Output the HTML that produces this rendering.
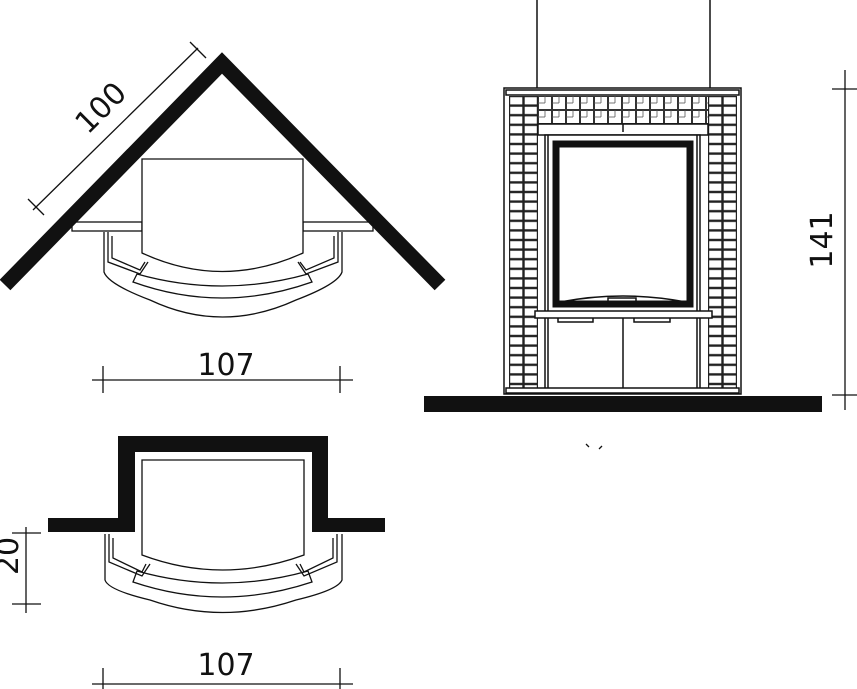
<!DOCTYPE html>
<html><head><style>html,body{margin:0;padding:0;background:#fff}svg{display:block}text{font-family:"DejaVu Sans","Liberation Sans",sans-serif;fill:#111}</style></head>
<body>
<svg width="857" height="689" viewBox="0 0 857 689" xmlns="http://www.w3.org/2000/svg">
<defs>
<pattern id="tile" x="509" y="96" width="14.5" height="9.6" patternUnits="userSpaceOnUse">
<rect x="0.6" y="0.6" width="13.3" height="8.4" fill="#fff" stroke="#222" stroke-width="1.2"/>
</pattern>
<pattern id="tileR" x="708" y="96" width="14.5" height="9.6" patternUnits="userSpaceOnUse">
<rect x="0.6" y="0.6" width="13.3" height="8.4" fill="#fff" stroke="#222" stroke-width="1.2"/>
</pattern>
<pattern id="tileT" x="538" y="96" width="14" height="14" patternUnits="userSpaceOnUse">
<rect x="0.5" y="0.5" width="13" height="13" fill="#fff" stroke="#333" stroke-width="1"/>
<line x1="7" y1="0" x2="7" y2="7" stroke="#555" stroke-width="0.8"/>
<line x1="0" y1="7" x2="7" y2="7" stroke="#555" stroke-width="0.8"/>
</pattern>
</defs>
<g fill="none" stroke="#111" stroke-linecap="butt">
<polyline points="5,285 222,63 440,285" stroke-width="15" stroke-linejoin="miter"/>
<g stroke-width="1.3">
<line x1="33" y1="210" x2="198" y2="48"/>
<line x1="28" y1="199" x2="44" y2="215"/><line x1="190" y1="42" x2="206" y2="58"/>
<rect x="72" y="222" width="70" height="9"/><rect x="303" y="222" width="70" height="9"/>
<path d="M142,159 H303 V253 Q222,290 142,253 Z" fill="#fff"/>
<path d="M104,232 V272 Q108,284 150,300 Q222,334 296,300 Q338,284 342,272 V232"/>
<path d="M133,282 L137,274 Q222,298 308,274 L312,282 Q222,314 133,282 Z"/>
<path d="M108,232 V262 L140,274 L148,262 M112,236 V258 L140,270 L145,262"/>
<path d="M338,232 V262 L306,274 L298,262 M334,236 V258 L306,270 L300,262"/>
<line x1="92" y1="380" x2="353" y2="380"/><line x1="103" y1="366" x2="103" y2="393"/><line x1="340" y1="366" x2="340" y2="393"/>
</g>
<polygon points="48,518 118,518 118,436 328,436 328,518 385,518 385,532 312,532 312,452 135,452 135,532 48,532" fill="#111" stroke="none"/>
<g stroke-width="1.3">
<path d="M142,460 H304 V555 Q222,585 142,555 Z" fill="#fff"/>
<path d="M105,534 V580 Q108,590 150,600 Q222,625 296,600 Q338,590 342,580 V534"/>
<path d="M133,582 L137,571 Q222,595 308,571 L312,582 Q222,612 133,582 Z"/>
<path d="M109,534 V562 L142,576 L150,564 M113,538 V558 L142,572 L146,564"/>
<path d="M337,534 V562 L304,576 L296,564 M333,538 V558 L304,572 L300,564"/>
<line x1="26" y1="527" x2="26" y2="613"/><line x1="12" y1="533" x2="41" y2="533"/><line x1="12" y1="604" x2="41" y2="604"/>
<line x1="92" y1="684" x2="353" y2="684"/><line x1="103" y1="668" x2="103" y2="689"/><line x1="340" y1="668" x2="340" y2="689"/>
</g>
<g stroke-width="1.5">
<line x1="537" y1="0" x2="537" y2="89"/><line x1="710" y1="0" x2="710" y2="89"/>
<rect x="504" y="88" width="237" height="306" fill="#fff"/>
<rect x="506" y="90" width="233" height="5"/>
</g>
<rect x="509" y="96" width="29" height="293" fill="url(#tile)" stroke="none"/>
<rect x="708" y="96" width="29" height="293" fill="url(#tileR)" stroke="none"/>
<rect x="538" y="96" width="170" height="29" fill="url(#tileT)" stroke="none"/>
<g stroke-width="1.5">
<rect x="538" y="124" width="170" height="11" fill="#fff"/>
<line x1="623" y1="124" x2="623" y2="132"/>
<rect x="545" y="135" width="155" height="254" fill="#fff"/>
<line x1="548" y1="135" x2="548" y2="389"/><line x1="697" y1="135" x2="697" y2="389"/>
<rect x="556" y="144" width="134" height="160" stroke-width="7" fill="#fff"/>
<path d="M560,302 Q623,290 686,302"/><rect x="608" y="298" width="28" height="5"/>
<rect x="535" y="311" width="177" height="7" fill="#fff"/>
<path d="M558,318 v4 h35 v-4 M634,318 v4 h36 v-4"/>
<line x1="623" y1="318" x2="623" y2="389"/>
<rect x="506" y="388" width="233" height="5" fill="#fff"/>
</g>
<rect x="424" y="396" width="398" height="16" fill="#111" stroke="none"/>
<g stroke-width="1.3">
<line x1="845" y1="70" x2="845" y2="410"/><line x1="832" y1="89" x2="857" y2="89"/><line x1="832" y1="395" x2="857" y2="395"/>
<path d="M586,444 l3,3 M602,446 l-3,3"/>
</g>
</g>
<text x="226" y="375" font-size="30" text-anchor="middle">107</text>
<text x="226" y="675" font-size="30" text-anchor="middle">107</text>
<text transform="translate(108,115) rotate(-45)" font-size="30" text-anchor="middle">100</text>
<text transform="translate(832,240) rotate(-90)" font-size="30" text-anchor="middle">141</text>
<text transform="translate(18,556) rotate(-90)" font-size="30" text-anchor="middle">20</text>
</svg>
</body></html>
